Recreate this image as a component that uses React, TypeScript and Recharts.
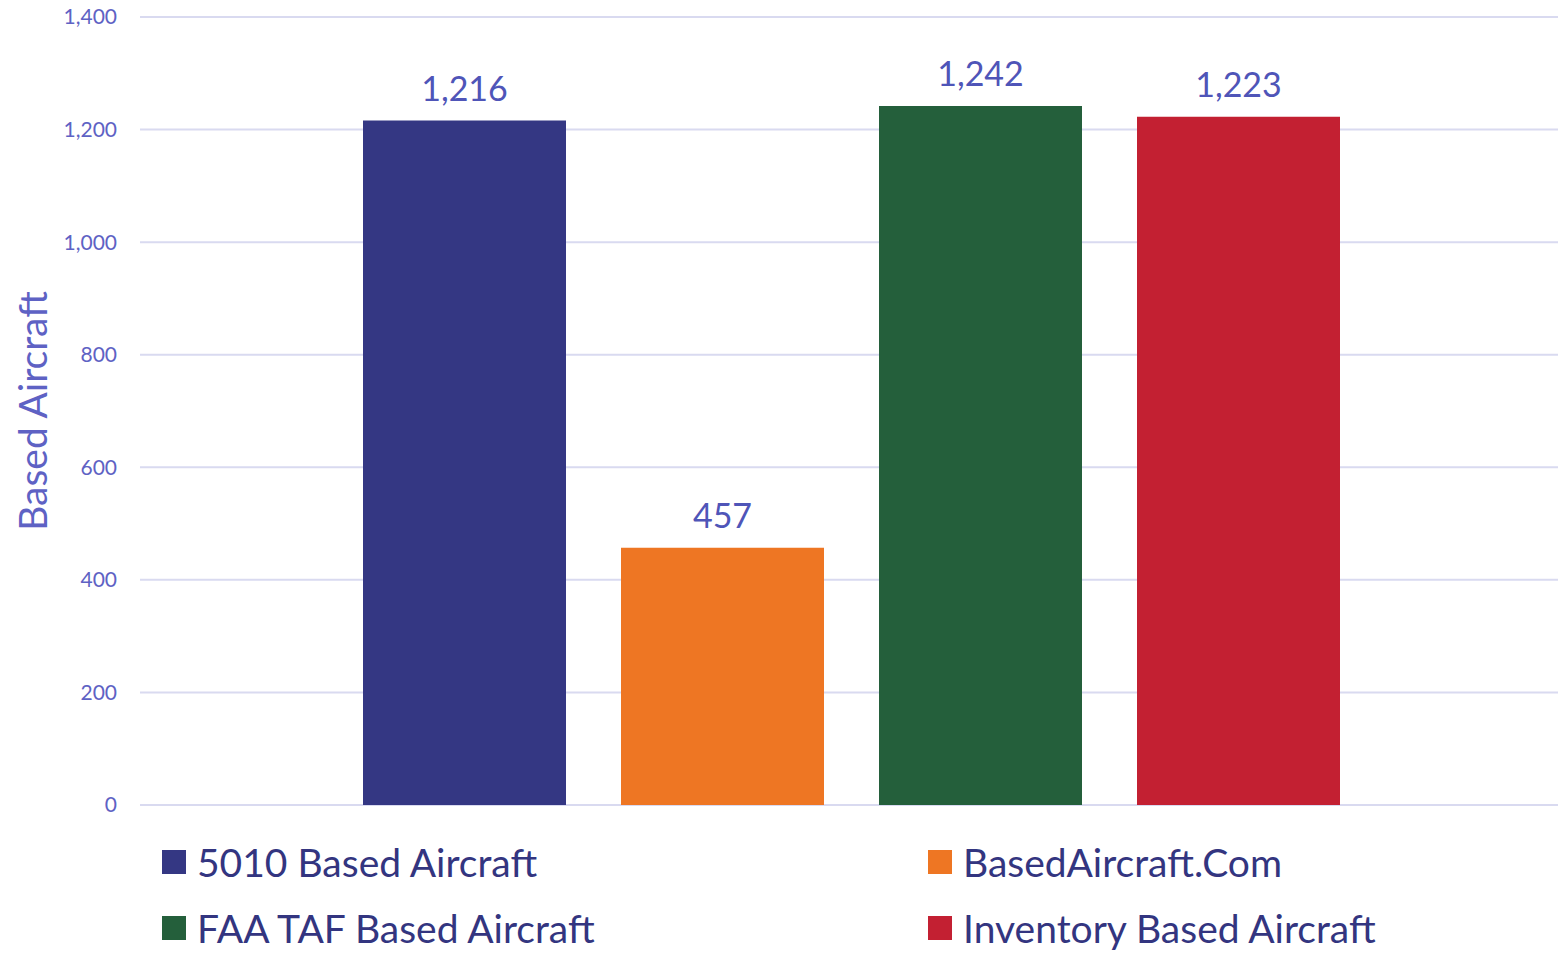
import { BarChart, Bar, XAxis, YAxis, CartesianGrid, Legend, LabelList } from 'recharts';

// One category, four sources of the based-aircraft count
const categories = ['Based Aircraft'];
const seriesKeys = ['s5010', 'basedAircraftCom', 'faaTaf', 'inventory'];
const seriesNames = ['5010 Based Aircraft', 'BasedAircraft.Com', 'FAA TAF Based Aircraft', 'Inventory Based Aircraft'];
const seriesValues = [1216, 457, 1242, 1223];
const seriesColors = ['#343783', '#EE7623', '#245F3B', '#C32032'];
const yTicks = [0, 200, 400, 600, 800, 1000, 1200, 1400];

const data = categories.map((name) => {
  const row: Record<string, any> = { name };
  seriesKeys.forEach((k, i) => { row[k] = seriesValues[i]; });
  return row;
});

const FONT = 'Lato, "Open Sans", sans-serif';
const fmt = (v: any) => Number(v).toLocaleString('en-US');

const LegendGrid = () => (
  <div style={{ display: 'grid', gridTemplateColumns: '766px 600px', rowGap: 14, paddingLeft: 162, paddingTop: 31, fontFamily: FONT }}>
    {seriesNames.map((n, i) => (
      <div key={n} style={{ display: 'flex', alignItems: 'center', color: '#333580', fontSize: 39, lineHeight: '52px' }}>
        <span style={{ width: 24, height: 24, background: seriesColors[i], marginRight: 11, display: 'inline-block' }} />
        {n}
      </div>
    ))}
  </div>
);

export default function App() {
  return (
    <div style={{ position: 'absolute', left: 0, top: 0, width: 1558, height: 953, overflow: 'hidden', background: '#fff' }}>
      <BarChart
        width={1562}
        height={953}
        data={data}
        margin={{ top: 17, right: 0, left: 0, bottom: 0 }}
        barCategoryGap={223}
        barGap={55}
      >
        <CartesianGrid vertical={false} stroke="#D9DAF0" strokeWidth={2} />
        <XAxis dataKey="name" hide />
        <YAxis
          width={140}
          domain={[0, 1400]}
          ticks={yTicks}
          interval={0}
          axisLine={false}
          tickLine={false}
          tickSize={0}
          tickMargin={23}
          tickFormatter={fmt}
          tick={{ fill: '#5E62C4', fontSize: 21, fontFamily: FONT }}
          label={{
            value: 'Based Aircraft',
            angle: -90,
            position: 'insideLeft',
            offset: 33,
            style: { textAnchor: 'middle', fill: '#5E62C4', fontSize: 39, fontFamily: FONT },
          }}
        />
        <Legend verticalAlign="bottom" height={148} content={<LegendGrid />} />
        {seriesKeys.map((k, i) => (
          <Bar key={k} dataKey={k} name={seriesNames[i]} fill={seriesColors[i]} isAnimationActive={false}>
            <LabelList dataKey={k} position="top" offset={20} formatter={fmt} fill="#4F55B8" fontSize={34} fontFamily={FONT} />
          </Bar>
        ))}
      </BarChart>
    </div>
  );
}
